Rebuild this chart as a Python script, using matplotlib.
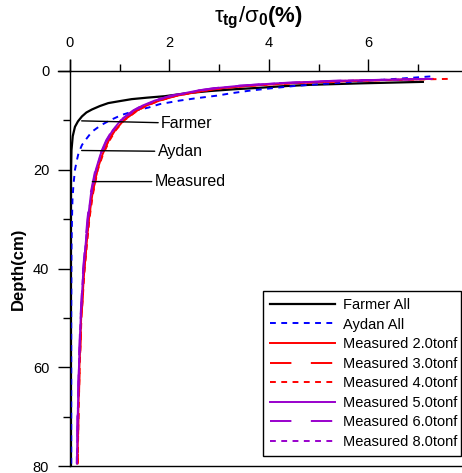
import numpy as np
import matplotlib
matplotlib.use("Agg")
import matplotlib.pyplot as plt
from matplotlib.lines import Line2D

plt.rcParams['font.family'] = ['Liberation Sans', 'DejaVu Sans']
plt.rcParams['mathtext.fontset'] = 'custom'
plt.rcParams['mathtext.rm'] = 'Liberation Sans'
plt.rcParams['mathtext.it'] = 'Liberation Sans'
plt.rcParams['mathtext.bf'] = 'Liberation Sans:bold'

# Farmer model (stress ratio %, depth cm)
farmer_depth = [2.2, 2.5, 2.8, 3.1, 3.4, 3.7, 4.05, 4.5, 5.1, 5.4, 5.7, 6.1, 6.5, 7.1, 7.8,
                8.4, 9.2, 10.2, 11.3, 13.2, 16, 20, 30, 50, 80]
farmer_x = [7.1, 5.85, 4.83, 4.25, 3.82, 3.3, 2.82, 2.35, 1.91, 1.55, 1.24, 1.0, 0.77, 0.6, 0.44,
            0.33, 0.24, 0.16, 0.1, 0.055, 0.03, 0.022, 0.02, 0.02, 0.02]

# Aydan model
aydan_depth = [1.1, 1.5, 2.0, 2.5, 3.0, 3.5, 4.0, 4.5, 5.0, 5.5, 6.0, 6.7, 7.4, 8.0, 8.9,
               10, 11, 12.3, 14, 15, 16.7, 18, 20, 23, 26, 30, 36, 50, 80]
aydan_x = [7.25, 6.7, 5.95, 5.25, 4.55, 4.05, 3.6, 3.25, 2.95, 2.55, 2.2, 1.81, 1.58, 1.33, 1.04,
           0.8, 0.62, 0.44, 0.31, 0.24, 0.17, 0.14, 0.10, 0.07, 0.05, 0.04, 0.03, 0.025, 0.025]

# measured curves
meas_depth = [1.6, 2.0, 2.5, 3.0, 3.5, 4.0, 5.0, 6.0, 7.0, 8.0, 10, 12, 14, 17, 20, 25, 30,
              40, 50, 60, 70, 79.5]
meas_2 = [7.3, 5.6, 4.4, 3.6, 3.05, 2.7, 2.15, 1.8, 1.54, 1.35, 1.08, 0.91, 0.78, 0.65, 0.55,
          0.45, 0.38, 0.29, 0.225, 0.19, 0.165, 0.15]
meas_3 = [7.2, 5.5, 4.35, 3.55, 3.0, 2.65, 2.12, 1.78, 1.52, 1.34, 1.07, 0.9, 0.78, 0.65, 0.55,
          0.45, 0.38, 0.29, 0.23, 0.195, 0.17, 0.155]
meas_4 = [7.6, 5.7, 4.45, 3.6, 3.05, 2.7, 2.15, 1.8, 1.55, 1.36, 1.09, 0.92, 0.8, 0.66, 0.56,
          0.46, 0.39, 0.295, 0.23, 0.195, 0.17, 0.155]
meas_5 = [7.2, 5.3, 4.15, 3.4, 2.9, 2.55, 2.05, 1.7, 1.46, 1.28, 1.02, 0.86, 0.74, 0.61, 0.52,
          0.42, 0.36, 0.27, 0.215, 0.18, 0.155, 0.14]
meas_6 = [7.1, 5.25, 4.1, 3.38, 2.88, 2.53, 2.03, 1.69, 1.45, 1.27, 1.01, 0.85, 0.73, 0.6, 0.51,
          0.41, 0.35, 0.265, 0.21, 0.175, 0.15, 0.135]
meas_8 = [7.3, 5.4, 4.2, 3.45, 2.95, 2.6, 2.08, 1.73, 1.48, 1.3, 1.03, 0.87, 0.75, 0.62, 0.53,
          0.43, 0.36, 0.27, 0.215, 0.18, 0.155, 0.14]

PURPLE = '#9900CC'
LONG = (11, 10)
SHORT = (3, 2.8)

fig = plt.figure(figsize=(4.62, 4.73), dpi=100)
ax = fig.add_axes([70 / 462, 1 - 466 / 473, 391 / 462, 395 / 473])

ax.plot(farmer_x, farmer_depth, color='black', lw=1.6, label='Farmer All')
ax.plot(aydan_x, aydan_depth, color='blue', lw=1.4, dashes=SHORT, label='Aydan All')
ax.plot(meas_2, meas_depth, color='red', lw=1.4, label='Measured 2.0tonf')
ax.plot(meas_3, meas_depth, color='red', lw=1.4, dashes=LONG, label='Measured 3.0tonf')
ax.plot(meas_4, meas_depth, color='red', lw=1.4, dashes=SHORT, label='Measured 4.0tonf')
ax.plot(meas_5, meas_depth, color=PURPLE, lw=1.4, label='Measured 5.0tonf')
ax.plot(meas_6, meas_depth, color=PURPLE, lw=1.4, dashes=LONG, label='Measured 6.0tonf')
ax.plot(meas_8, meas_depth, color=PURPLE, lw=1.4, dashes=SHORT, label='Measured 8.0tonf')

ax.set_xlim(0, 391 / 49.7)
ax.set_ylim(80, 0)

ax.spines['right'].set_visible(False)
for s in ['top', 'left', 'bottom']:
    ax.spines[s].set_linewidth(1.0)

ax.xaxis.tick_top()
ax.set_xticks([0, 2, 4, 6])
ax.set_xticks([1, 3, 5, 7], minor=True)
ax.set_yticks([0, 20, 40, 60, 80])
ax.set_yticks([10, 30, 50, 70], minor=True)
ax.tick_params(which='major', direction='out', length=9, width=1.0, labelsize=10.5, pad=6)
ax.tick_params(which='minor', direction='out', length=5, width=1.0)
ax.tick_params(axis='x', which='both', top=True, bottom=False)

# spine extensions past the origin
fig.add_artist(Line2D([58 / 462, 70 / 462], [1 - 71 / 473, 1 - 71 / 473],
                      color='black', lw=1.0, transform=fig.transFigure))
fig.add_artist(Line2D([70 / 462, 70 / 462], [1 - 60 / 473, 1 - 71 / 473],
                      color='black', lw=1.0, transform=fig.transFigure))

# leader labels
ax.annotate('Farmer', xy=(0.235, 10.1), xytext=(1.83, 10.6), fontsize=11.5,
            va='center', ha='left',
            arrowprops=dict(arrowstyle='-', color='black', lw=1.0, shrinkA=0, shrinkB=0))
ax.annotate('Aydan', xy=(0.235, 16.1), xytext=(1.76, 16.3), fontsize=11.5,
            va='center', ha='left',
            arrowprops=dict(arrowstyle='-', color='black', lw=1.0, shrinkA=0, shrinkB=0))
ax.annotate('Measured', xy=(0.45, 22.4), xytext=(1.70, 22.4), fontsize=11.5,
            va='center', ha='left',
            arrowprops=dict(arrowstyle='-', color='black', lw=1.0, shrinkA=0, shrinkB=0))

ax.set_ylabel('Depth(cm)', fontsize=12, fontweight='bold', labelpad=5)
fig.text(258 / 462, 1 - 18 / 473,
         r'$\tau_{\mathbf{tg}}/\sigma_{\mathbf{0}}\mathbf{(\%)}$',
         fontsize=16, ha='center', va='center')

leg = ax.legend(loc='lower left', bbox_to_anchor=(0.494, 0.025, 0.506, 0.42),
                mode='expand', fontsize=10.5, handlelength=4.4, handletextpad=0.6,
                labelspacing=0.38, borderpad=0.5, fancybox=False, framealpha=1,
                edgecolor='black', borderaxespad=0)
leg.get_frame().set_linewidth(1.0)

fig.savefig('out.png', dpi=100)
